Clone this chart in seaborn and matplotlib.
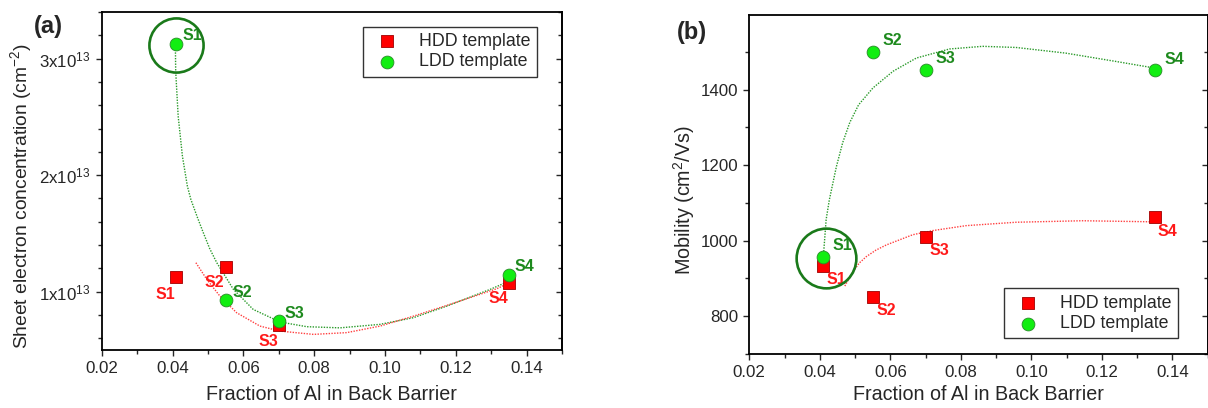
import numpy as np
import pandas as pd
import matplotlib
matplotlib.use('Agg')
import matplotlib.pyplot as plt
from matplotlib.ticker import MultipleLocator, FuncFormatter
import seaborn as sns

sns.set_style('ticks')
plt.rcParams['font.family'] = ['Liberation Sans', 'DejaVu Sans']
plt.rcParams['mathtext.fontset'] = 'custom'
plt.rcParams['mathtext.rm'] = 'Liberation Sans'

# --- data ---
samples = ['S1', 'S2', 'S3', 'S4']
al_fraction = [0.041, 0.055, 0.070, 0.135]

# panel (a): sheet electron concentration (cm^-2)
ns_hdd = [1.128e13, 1.214e13, 0.711e13, 1.077e13]
ns_ldd = [3.125e13, 0.925e13, 0.748e13, 1.140e13]

# panel (b): mobility (cm^2/Vs)
mu_hdd = [932, 851, 1011, 1063]
mu_ldd = [957, 1500, 1453, 1452]

# fitted guide curves
fit_a_ldd_x = [0.0408, 0.0409, 0.0416, 0.0428, 0.0442, 0.0452, 0.0470, 0.0487, 0.0505,
               0.0525, 0.0572, 0.0628, 0.0704, 0.0779, 0.0873, 0.0986, 0.108, 0.1175,
               0.1297, 0.135]
fit_a_ldd_y = [3.125e13, 2.89e13, 2.505e13, 2.162e13, 1.905e13, 1.79e13, 1.64e13, 1.506e13,
               1.37e13, 1.249e13, 1.02e13, 0.848e13, 0.74e13, 0.70e13, 0.69e13, 0.72e13,
               0.777e13, 0.877e13, 1.02e13, 1.09e13]
fit_a_hdd_x = [0.0466, 0.0497, 0.0534, 0.0581, 0.0647, 0.0704, 0.0798, 0.0892, 0.0986,
               0.108, 0.1175, 0.1316, 0.134]
fit_a_hdd_y = [1.249e13, 1.105e13, 0.962e13, 0.82e13, 0.705e13, 0.662e13, 0.634e13,
               0.649e13, 0.705e13, 0.79e13, 0.883e13, 1.026e13, 1.06e13]
fit_b_ldd_x = [0.0410, 0.0418, 0.0427, 0.0447, 0.0465, 0.0485, 0.0510, 0.0551, 0.0608,
               0.0674, 0.0768, 0.0862, 0.0957, 0.1098, 0.124, 0.1353]
fit_b_ldd_y = [957, 1056, 1108, 1196, 1260, 1313, 1360, 1405, 1449, 1484, 1508, 1515,
               1512, 1497, 1475, 1457]
fit_b_hdd_x = [0.0471, 0.0494, 0.0512, 0.0532, 0.0559, 0.0589, 0.0664, 0.0721, 0.0815,
               0.0957, 0.1145, 0.1287, 0.1353]
fit_b_hdd_y = [880, 918, 941, 958, 975, 989, 1016, 1027, 1040, 1049, 1053, 1051, 1050]

RED = '#ff0000'
RED_TXT = '#ff1a1a'
GREEN = '#11ee11'
GREEN_TXT = '#1e8a1e'
RING = '#1a7a1a'

fig = plt.figure(figsize=(12.08, 4.08), dpi=100)
ax_a = fig.add_axes([101.7 / 1208, 1 - 350 / 408, 460.3 / 1208, 338 / 408])
ax_b = fig.add_axes([749.3 / 1208, 1 - 354 / 408, 458.2 / 1208, 339 / 408])


def draw_panel(ax, y_hdd, y_ldd, fit_h, fit_l, hdd_off, ldd_off):
    sns.lineplot(x=fit_l[0], y=fit_l[1], ax=ax, sort=False, estimator=None,
                 color='#2a9a2a', lw=1.0, linestyle=(0, (1, 1)), zorder=2)
    sns.lineplot(x=fit_h[0], y=fit_h[1], ax=ax, sort=False, estimator=None,
                 color='#ff4040', lw=1.0, linestyle=(0, (1, 1)), zorder=2)
    sns.scatterplot(x=al_fraction, y=y_hdd, ax=ax, marker='s', s=80, color=RED,
                    edgecolor='#a00000', linewidth=0.6, label='HDD template', zorder=3)
    sns.scatterplot(x=al_fraction, y=y_ldd, ax=ax, marker='o', s=85, color=GREEN,
                    edgecolor='#2a8a2a', linewidth=0.6, label='LDD template', zorder=4)
    for i, name in enumerate(samples):
        ax.annotate(name, (al_fraction[i], y_hdd[i]), xytext=hdd_off[i],
                    textcoords='offset pixels', ha='center', va='center',
                    color=RED_TXT, fontsize=11.5, fontweight='bold', zorder=5)
        ax.annotate(name, (al_fraction[i], y_ldd[i]), xytext=ldd_off[i],
                    textcoords='offset pixels', ha='center', va='center',
                    color=GREEN_TXT, fontsize=11.5, fontweight='bold', zorder=5)


draw_panel(ax_a, ns_hdd, ns_ldd, (fit_a_hdd_x, fit_a_hdd_y), (fit_a_ldd_x, fit_a_ldd_y),
           [(-11, -18), (-11, -16), (-10, -16), (-10, -16)],
           [(16, 9), (17, 8), (16, 8), (16, 9)])
draw_panel(ax_b, mu_hdd, mu_ldd, (fit_b_hdd_x, fit_b_hdd_y), (fit_b_ldd_x, fit_b_ldd_y),
           [(13, -13), (14, -14), (14, -14), (13, -15)],
           [(19, 11), (20, 11), (20, 11), (20, 11)])

# highlight rings around S1
ax_a.plot([0.0411], [3.12e13], marker='o', markersize=39, mfc='none', mec=RING, mew=1.9, zorder=6)
ax_b.plot([0.0419], [954], marker='o', markersize=43, mfc='none', mec=RING, mew=1.9, zorder=6)


def sci(v, pos):
    if v <= 0:
        return ''
    return r'$\mathregular{%dx10^{13}}$' % round(v / 1e13)


for ax, ylim, major, minor in [(ax_a, (0.5e13, 3.4e13), 1e13, 0.2e13),
                               (ax_b, (700, 1598), 200, 100)]:
    ax.set_xlim(0.02, 0.15)
    ax.set_ylim(*ylim)
    ax.xaxis.set_major_locator(MultipleLocator(0.02))
    ax.xaxis.set_minor_locator(MultipleLocator(0.01))
    ax.yaxis.set_major_locator(MultipleLocator(major))
    ax.yaxis.set_minor_locator(MultipleLocator(minor))
    ax.xaxis.set_major_formatter(FuncFormatter(lambda v, p: '%.2f' % v))
    ax.tick_params(which='major', direction='out', length=4.5, width=1.0, labelsize=12.2)
    ax.tick_params(which='minor', direction='out', length=3, width=1.0)
    for sp in ax.spines.values():
        sp.set_linewidth(1.3)
        sp.set_color('black')
    sec = ax.secondary_yaxis('right')
    sec.yaxis.set_major_locator(MultipleLocator(major))
    sec.yaxis.set_minor_locator(MultipleLocator(minor))
    sec.tick_params(which='major', direction='in', length=4.5, width=1.0, labelright=False)
    sec.tick_params(which='minor', direction='in', length=3, width=1.0)
    sec.spines['right'].set_linewidth(1.3)

ax_a.set_xlabel('Fraction of Al in Back Barrier', fontsize=14.2)
ax_b.set_xlabel('Fraction of Al in Back Barrier', fontsize=14.2)
ax_a.xaxis.set_label_coords(0.5, -0.105)
ax_b.xaxis.set_label_coords(0.5, -0.092)

ax_a.yaxis.set_major_formatter(FuncFormatter(sci))
ax_b.yaxis.set_major_formatter(FuncFormatter(lambda v, p: '%d' % v))
ax_a.set_ylabel(r'Sheet electron concentration (cm$^{\mathregular{-2}}$)', fontsize=13.9)
ax_b.set_ylabel(r'Mobility (cm$^{\mathregular{2}}$/Vs)', fontsize=14.2)
ax_a.yaxis.set_label_coords(-0.145, 0.456)
ax_b.yaxis.set_label_coords(-0.115, 0.454)

leg_kw = dict(frameon=True, fancybox=False, edgecolor='#333333', fontsize=12.8,
              handletextpad=0.8, borderpad=0.35, labelspacing=0.2, framealpha=1,
              borderaxespad=0)
la = ax_a.legend(loc='upper right', bbox_to_anchor=(0.946, 0.9565), **leg_kw)
lb = ax_b.legend(loc='lower right', bbox_to_anchor=(0.936, 0.046), **leg_kw)
for lg in (la, lb):
    lg.get_frame().set_linewidth(1.0)
    lg.set_zorder(10)

fig.text(48 / 1208, 1 - 27 / 408, '(a)', fontsize=17, fontweight='bold', ha='center', va='center')
fig.text(692 / 1208, 1 - 33 / 408, '(b)', fontsize=17, fontweight='bold', ha='center', va='center')

fig.savefig('out.png', dpi=100)
